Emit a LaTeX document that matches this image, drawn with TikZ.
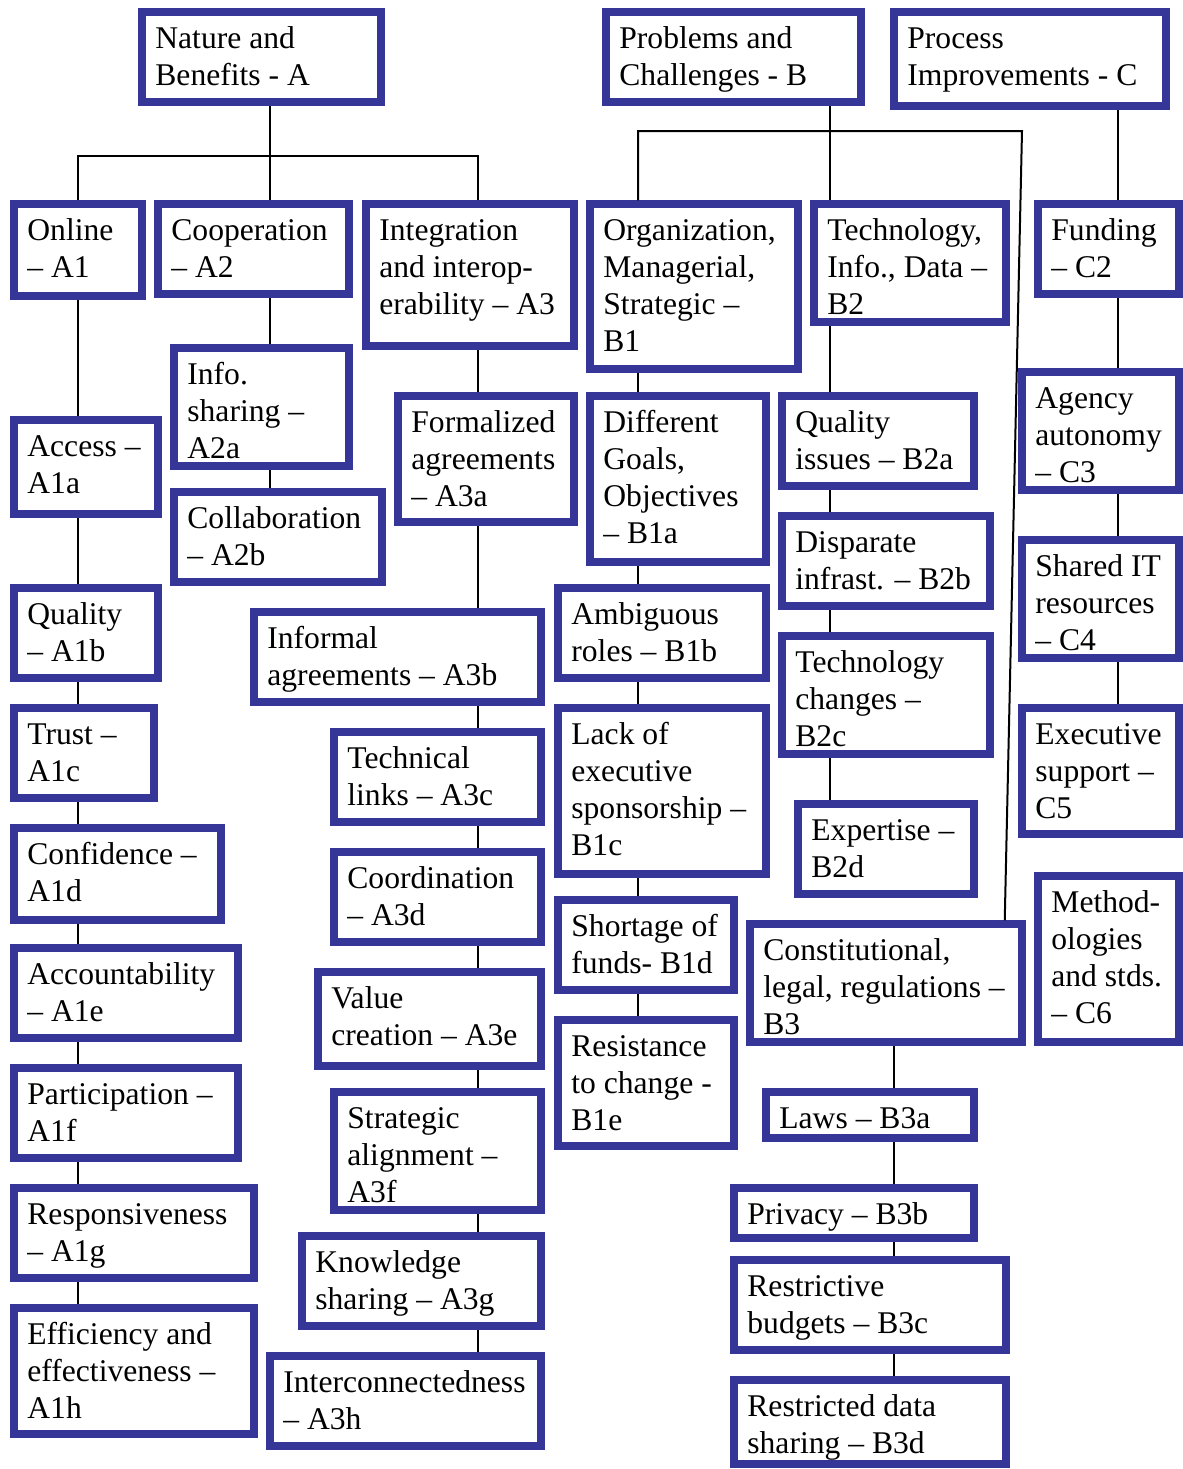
\documentclass[tikz,border=0pt]{standalone}
\usepackage{fontspec}
\setmainfont{Liberation Serif}
\usetikzlibrary{fit,calc}
\definecolor{boxblue}{RGB}{54,54,153}
\tikzset{
  bbox/.style={draw=boxblue, line width=3.75pt, inner sep=0pt, rectangle},
  btxt/.style={anchor=north west, inner sep=0pt, align=left, font=\fontsize{15.8}{18.5}\selectfont},
  conn/.style={draw=black, line width=1pt},
}
\newcommand\bx[6]{%
  \node[bbox, fit={(#2+4,#3+4) (#4-4,#5-4)}] (#1) {};
  \node[btxt] (#1t) at (#2+17,#3+16.5) {\rule{0pt}{12pt}#6};
}
\begin{document}
\begin{tikzpicture}[x=0.5pt, y=-0.5pt]
\useasboundingbox (0,0) rectangle (1183,1469);
% column reference coordinates
\coordinate (colA1) at (78,0);
\coordinate (colA2) at (270,0);
\coordinate (colA3) at (478,0);
\coordinate (colB1) at (638,0);
\coordinate (colB2) at (830,0);
\coordinate (colB3) at (894,0);
\coordinate (colC) at (1118,0);
\coordinate (aBar) at (0,156);
\coordinate (bR) at (1022,131);

% top level
\bx{A}{138}{8}{385}{106}{Nature and\\Benefits - A}
\bx{B}{602}{8}{865}{106}{Problems and\\Challenges - B}
\bx{C}{890}{8}{1170}{110}{Process\\Improvements - C}

% second row
\bx{A1}{10}{200}{146}{300}{Online\\– A1}
\bx{A2}{154}{200}{353}{298}{Cooperation\\– A2}
\bx{A3}{362}{200}{578}{350}{Integration\\and interop-\\erability – A3}
\bx{B1}{586}{200}{802}{373}{Organization,\\Managerial,\\Strategic –\\B1}
\bx{B2}{810}{200}{1010}{326}{Technology,\\Info., Data –\\B2}
\bx{C2}{1034}{200}{1183}{298}{Funding\\– C2}

% A1 column
\bx{A1a}{10}{416}{162}{518}{Access –\\A1a}
\bx{A1b}{10}{584}{162}{682}{Quality\\– A1b}
\bx{A1c}{10}{704}{158}{802}{Trust –\\A1c}
\bx{A1d}{10}{824}{225}{924}{Confidence –\\A1d}
\bx{A1e}{10}{944}{242}{1042}{Accountability\\– A1e}
\bx{A1f}{10}{1064}{242}{1162}{Participation –\\A1f}
\bx{A1g}{10}{1184}{258}{1282}{Responsiveness\\– A1g}
\bx{A1h}{10}{1304}{258}{1438}{Efficiency and\\effectiveness –\\A1h}

% A2 column
\bx{A2a}{170}{344}{353}{470}{Info.\\sharing –\\A2a}
\bx{A2b}{170}{488}{386}{586}{Collaboration\\– A2b}

% A3 column
\bx{A3a}{394}{392}{578}{526}{Formalized\\agreements\\– A3a}
\bx{A3b}{250}{608}{545}{706}{Informal\\agreements – A3b}
\bx{A3c}{330}{728}{545}{826}{Technical\\links – A3c}
\bx{A3d}{330}{848}{545}{946}{Coordination\\– A3d}
\bx{A3e}{314}{968}{545}{1070}{Value\\creation – A3e}
\bx{A3f}{330}{1088}{545}{1214}{Strategic\\alignment –\\A3f}
\bx{A3g}{298}{1232}{545}{1330}{Knowledge\\sharing – A3g}
\bx{A3h}{266}{1352}{545}{1450}{Interconnectedness\\– A3h}

% B1 column
\bx{B1a}{586}{392}{770}{566}{Different\\Goals,\\Objectives\\– B1a}
\bx{B1b}{554}{584}{770}{682}{Ambiguous\\roles – B1b}
\bx{B1c}{554}{704}{770}{878}{Lack of\\executive\\sponsorship –\\B1c}
\bx{B1d}{554}{896}{738}{994}{Shortage of\\funds- B1d}
\bx{B1e}{554}{1016}{738}{1150}{Resistance\\to change -\\B1e}

% B2 column
\bx{B2a}{778}{392}{978}{490}{Quality\\issues – B2a}
\bx{B2b}{778}{512}{994}{610}{Disparate\\infrast. – B2b}
\bx{B2c}{778}{632}{994}{758}{Technology\\changes –\\B2c}
\bx{B2d}{794}{800}{978}{898}{Expertise –\\B2d}

% B3 column
\bx{B3}{746}{920}{1026}{1046}{Constitutional,\\legal, regulations –\\B3}
\bx{B3a}{762}{1088}{978}{1142}{Laws – B3a}
\bx{B3b}{730}{1184}{978}{1242}{Privacy – B3b}
\bx{B3c}{730}{1256}{1010}{1354}{Restrictive\\budgets – B3c}
\bx{B3d}{730}{1376}{1010}{1468}{Restricted data\\sharing – B3d}

% C column
\bx{C3}{1018}{368}{1183}{494}{Agency\\autonomy\\– C3}
\bx{C4}{1018}{536}{1183}{662}{Shared IT\\resources\\– C4}
\bx{C5}{1018}{704}{1183}{838}{Executive\\support –\\C5}
\bx{C6}{1034}{872}{1183}{1046}{Method-\\ologies\\and stds.\\– C6}

% connectors: A tree
\draw[conn] (A.south -| colA2) -- (A2.north -| colA2);
\draw[conn] (A1.north -| colA1) |- (aBar -| colA3) -- (A3.north -| colA3);
\foreach \u/\v in {A1/A1a, A1a/A1b, A1b/A1c, A1c/A1d, A1d/A1e, A1e/A1f, A1f/A1g, A1g/A1h}
  \draw[conn] (\u.south -| colA1) -- (\v.north -| colA1);
\foreach \u/\v in {A2/A2a, A2a/A2b}
  \draw[conn] (\u.south -| colA2) -- (\v.north -| colA2);
\foreach \u/\v in {A3/A3a, A3a/A3b, A3b/A3c, A3c/A3d, A3d/A3e, A3e/A3f, A3f/A3g, A3g/A3h}
  \draw[conn] (\u.south -| colA3) -- (\v.north -| colA3);

% B tree
\draw[conn] (B.south -| colB2) -- (B2.north -| colB2);
\draw[conn] (B1.north -| colB1) |- (bR) -- ($(B3.north east)+(-21,0)$);
\foreach \u/\v in {B1/B1a, B1a/B1b, B1b/B1c, B1c/B1d, B1d/B1e}
  \draw[conn] (\u.south -| colB1) -- (\v.north -| colB1);
\foreach \u/\v in {B2/B2a, B2a/B2b, B2b/B2c, B2c/B2d}
  \draw[conn] (\u.south -| colB2) -- (\v.north -| colB2);
\foreach \u/\v in {B3/B3a, B3a/B3b, B3b/B3c, B3c/B3d}
  \draw[conn] (\u.south -| colB3) -- (\v.north -| colB3);

% C tree
\foreach \u/\v in {C/C2, C2/C3, C3/C4, C4/C5}
  \draw[conn] (\u.south -| colC) -- (\v.north -| colC);
\end{tikzpicture}
\end{document}
